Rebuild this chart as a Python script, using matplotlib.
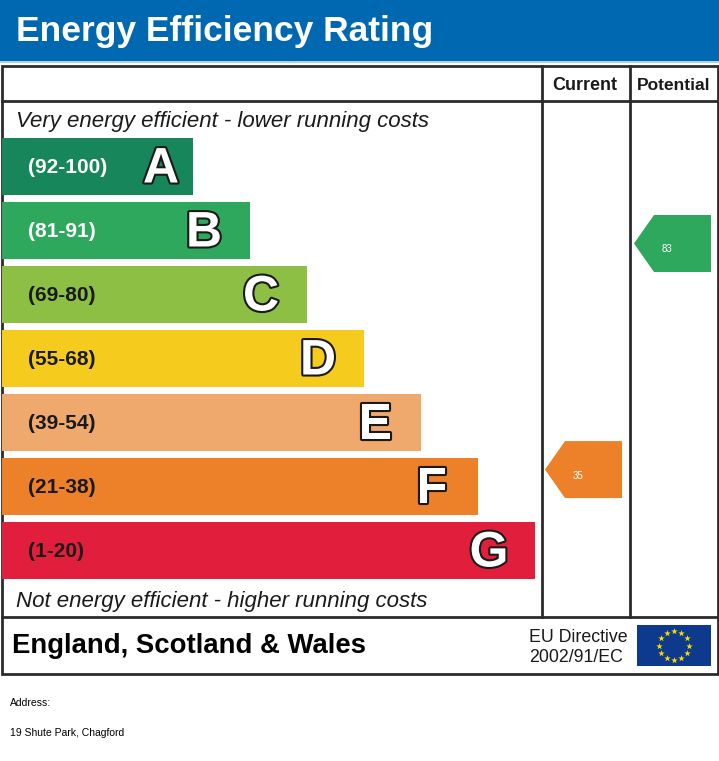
import numpy as np
import matplotlib
matplotlib.use("Agg")
import matplotlib.pyplot as plt
import matplotlib.patheffects as pe
from matplotlib.patches import Polygon, Rectangle

plt.rcParams['font.family'] = ['Liberation Sans', 'DejaVu Sans']

# rating bands
bands = ["A", "B", "C", "D", "E", "F", "G"]
ranges = ["(92-100)", "(81-91)", "(69-80)", "(55-68)", "(39-54)", "(21-38)", "(1-20)"]
colors = ["#17865a", "#2da85c", "#8cbf44", "#f5cc1d", "#f0a96d", "#ec812a", "#e11f3c"]
range_text_color = ["white", "white", "#1a1a1a", "#1a1a1a", "#1a1a1a", "#1a1a1a", "#1a1a1a"]

# ratings
current = 35
potential = 83

title = "Energy Efficiency Rating"
top_note = "Very energy efficient - lower running costs"
bottom_note = "Not energy efficient - higher running costs"
region = "England, Scotland & Wales"
directive = ["EU Directive", "2002/91/EC"]
address_label = "Address:"
address = "19 Shute Park, Chagford"

W, H = 719, 761
EDGE = "#2b2b2b"


def band_of(v):
    lows = [92, 81, 69, 55, 39, 21, 1]
    for i, lo in enumerate(lows):
        if v >= lo:
            return i
    return len(lows) - 1


def value_y(v):
    # arrow centre, linear in rating
    return 243.5 + (83 - v) * 4.71


def arrow(ax, x0, x1, v, col):
    yc = value_y(v)
    h = 57
    tip = 20
    pts = [(x0, yc), (x0 + tip, yc - h / 2), (x1, yc - h / 2),
           (x1, yc + h / 2), (x0 + tip, yc + h / 2)]
    ax.add_patch(Polygon(pts, closed=True, facecolor=col, edgecolor="none"))
    ax.text((x0 + x1) / 2 - 5, yc + 6, str(v), color="white", fontsize=7,
            ha="center", va="center")


def eu_flag(ax, x0, y0, w, h):
    ax.add_patch(Rectangle((x0, y0), w, h, facecolor="#0d3a8c", edgecolor="none"))
    cx, cy = x0 + w / 2, y0 + h / 2
    r = h * 0.36
    ang = np.linspace(0, 2 * np.pi, 13)[:-1]
    ax.scatter(cx + r * np.cos(ang), cy + r * np.sin(ang), marker="*", s=24,
               color="#ffdd00", linewidths=0, zorder=3)


def main():
    fig = plt.figure(figsize=(W / 100, H / 100), dpi=100)
    ax = fig.add_axes([0, 0, 1, 1])
    ax.set_xlim(0, W)
    ax.set_ylim(H, 0)
    ax.axis("off")

    # header
    ax.add_patch(Rectangle((0, 0), W, 61, facecolor="#0068b1", edgecolor="none"))
    ax.add_patch(Rectangle((0, 61), W, 2, facecolor="#a9d3ec", edgecolor="none"))
    ax.text(16, 32, title, color="white", fontsize=25.5, fontweight="bold",
            va="center", ha="left")

    # frame
    lw = 2
    ax.add_patch(Rectangle((1.5, 66), W - 3, 608, facecolor="none", edgecolor=EDGE, lw=lw))
    ax.plot([1.5, W - 1.5], [101, 101], color=EDGE, lw=lw)
    ax.plot([1.5, W - 1.5], [617, 617], color=EDGE, lw=lw)
    ax.plot([542, 542], [66, 617], color=EDGE, lw=lw)
    ax.plot([630, 630], [66, 617], color=EDGE, lw=lw)
    ax.text(585, 85, "Current", fontsize=13, fontweight="bold", ha="center", va="center",
            color="#1a1a1a")
    ax.text(674, 85, "Potential", fontsize=12.5, fontweight="bold", ha="center", va="center",
            color="#1a1a1a")

    ax.text(16, 121, top_note, fontsize=16, style="italic", va="center", color="#1a1a1a")
    ax.text(16, 601, bottom_note, fontsize=16, style="italic", va="center", color="#1a1a1a")

    # bars
    idx = np.arange(len(bands))
    centres = 166.5 + 64 * idx
    rights = 193 + 57 * idx
    ax.barh(centres, rights - 2, left=2, height=57, color=colors, edgecolor="none")
    for i in idx:
        ax.text(28, centres[i] + 1, ranges[i], color=range_text_color[i], fontsize=15,
                fontweight="bold", va="center", ha="left")
        off = 32 if i == 0 else 46
        t = ax.text(rights[i] - off, centres[i] + 3, bands[i], color="white", fontsize=36,
                    fontweight="bold", va="center", ha="center")
        t.set_path_effects([pe.withStroke(linewidth=3, foreground="#1a1a1a")])

    # ratings
    arrow(ax, 545, 622, current, colors[band_of(current)])
    arrow(ax, 634, 711, potential, colors[band_of(potential)])

    # footer
    ax.text(12, 646, region, fontsize=19.8, fontweight="bold", va="center", color="black")
    ax.text(529, 637, directive[0], fontsize=12.8, va="center", color="#1a1a1a")
    ax.text(529, 658, directive[1], fontsize=12.8, va="center", color="#1a1a1a")
    eu_flag(ax, 637, 625, 74, 41)

    ax.text(10, 703, address_label, fontsize=7.5, va="center", color="black")
    ax.text(10, 733, address, fontsize=7.5, va="center", color="black")

    fig.savefig("out.png", dpi=100)


if __name__ == "__main__":
    main()
